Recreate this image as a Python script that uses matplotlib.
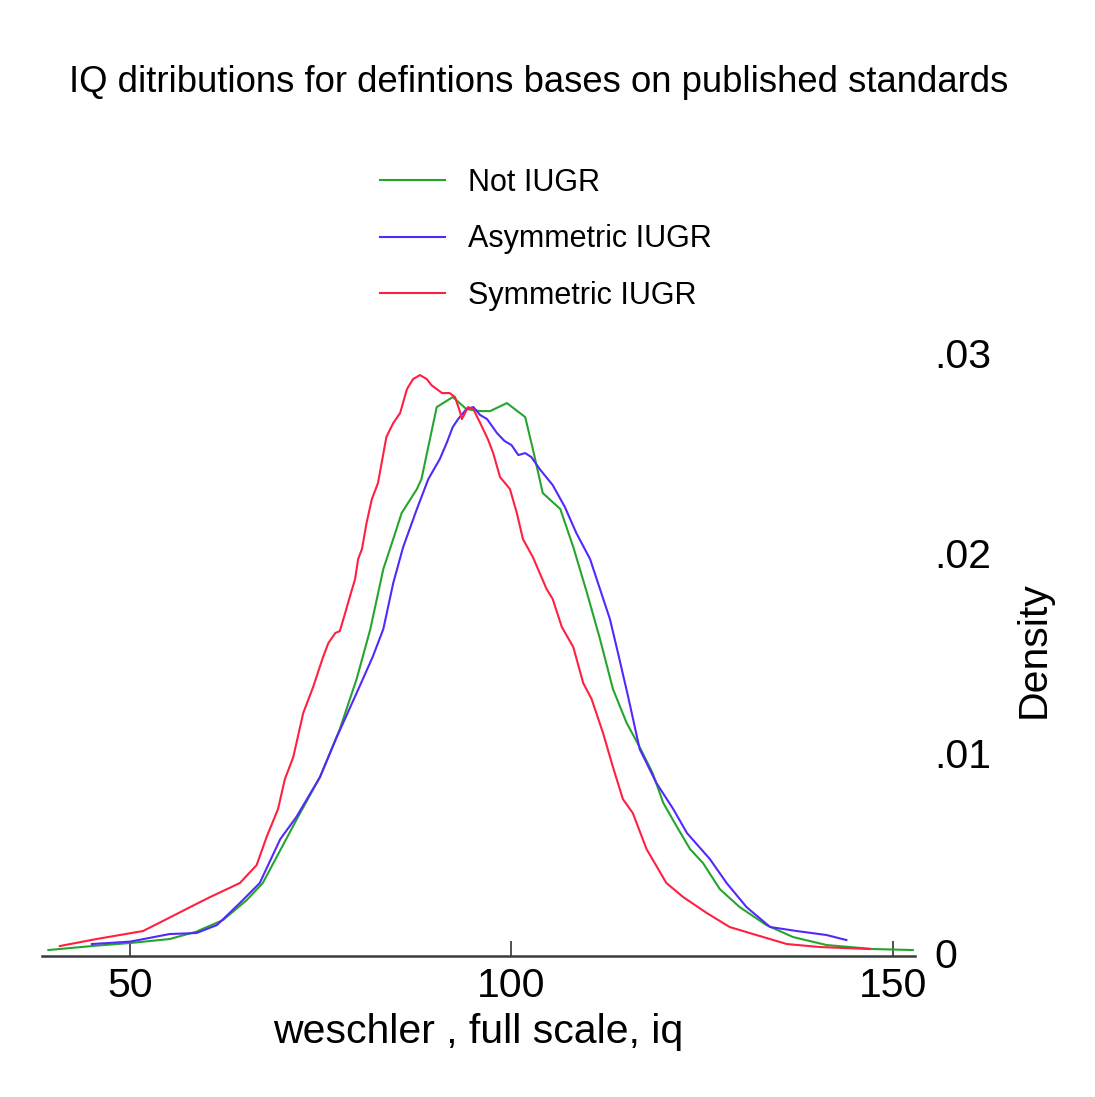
import matplotlib
matplotlib.use('Agg')
import matplotlib.pyplot as plt

plt.rcParams['font.family'] = ['Liberation Sans', 'DejaVu Sans']

# densidades (iq, densidade)
not_iugr_x = [39.3, 45.6, 50.0, 55.2, 58.7, 62.2, 65.3, 67.4, 71.8, 74.9, 77.5, 79.7, 81.5,
              83.2, 84.5, 85.6, 87.6, 88.2, 90.2, 92.3, 94.1, 95.9, 97.2, 99.4, 101.8, 102.8,
              104.1, 106.4, 108.1, 109.9, 111.6, 113.3, 115.1, 116.8, 118.5, 119.9, 121.7,
              123.4, 125.1, 127.3, 129.9, 133.4, 136.9, 141.3, 147.4, 152.6]
not_iugr_y = [0.00015, 0.00037, 0.0005, 0.0007, 0.00107, 0.00165, 0.00265, 0.0035, 0.00665,
              0.0088, 0.0112, 0.0137, 0.0162, 0.0192, 0.0207, 0.022, 0.0232, 0.0237, 0.0273,
              0.0278, 0.0272, 0.0271, 0.0271, 0.0275, 0.0268, 0.0252, 0.023, 0.0222, 0.0203,
              0.018, 0.0157, 0.0132, 0.0115, 0.0103, 0.009, 0.0075, 0.0063, 0.0052, 0.0045,
              0.0032, 0.0023, 0.0014, 0.0008, 0.0004, 0.0002, 0.00015]

asym_x = [45.0, 50.0, 55.2, 58.7, 61.4, 64.4, 67.0, 69.7, 71.8, 74.9, 77.1, 79.7, 81.8, 83.2,
          84.5, 85.8, 87.6, 89.1, 90.6, 91.5, 92.3, 93.0, 94.1, 95.0, 95.9, 96.8, 98.1, 99.1,
          100.0, 100.9, 101.8, 102.6, 103.7, 105.4, 107.0, 108.5, 110.3, 111.6, 112.9, 113.9,
          115.3, 116.8, 119.0, 121.2, 123.0, 126.0, 128.2, 130.8, 133.9, 137.4, 141.3, 143.9]
asym_y = [0.00045, 0.00057, 0.00095, 0.001, 0.0014, 0.0025, 0.0035, 0.0057, 0.0068, 0.0088,
          0.0108, 0.013, 0.0148, 0.0162, 0.0185, 0.0203, 0.0222, 0.0237, 0.0247, 0.0255,
          0.0263, 0.0267, 0.0272, 0.0273, 0.0269, 0.0267, 0.026, 0.0256, 0.0254, 0.0249,
          0.025, 0.0248, 0.0242, 0.0234, 0.0223, 0.021, 0.0197, 0.0182, 0.0167, 0.0151,
          0.0128, 0.0102, 0.0085, 0.0072, 0.006, 0.0047, 0.0035, 0.0023, 0.0013, 0.0011,
          0.0009, 0.00065]

sym_x = [40.8, 45.6, 51.7, 54.3, 57.9, 60.5, 64.4, 66.6, 67.9, 69.4, 70.3, 71.4, 72.7, 74.0,
         75.3, 76.0, 76.9, 77.5, 78.2, 78.8, 79.5, 79.9, 80.4, 81.0, 81.7, 82.5, 83.6, 84.5,
         85.4, 86.3, 87.1, 88.0, 88.9, 89.5, 90.9, 91.9, 92.6, 93.3, 93.5, 94.3, 95.0, 95.9,
         96.9, 97.6, 98.5, 99.8, 100.7, 101.5, 102.8, 104.6, 105.4, 106.6, 108.1, 109.4,
         110.5, 112.0, 113.3, 114.6, 115.9, 117.7, 120.3, 122.5, 125.6, 128.6, 132.1, 136.1,
         140.4, 147.0]
sym_y = [0.00035, 0.0007, 0.0011, 0.0016, 0.0023, 0.0028, 0.0035, 0.0044, 0.0058, 0.0072,
         0.0087, 0.0098, 0.012, 0.0133, 0.0148, 0.0155, 0.016, 0.0161, 0.017, 0.0178, 0.0187,
         0.0197, 0.0202, 0.0215, 0.0227, 0.0235, 0.0258, 0.0265, 0.027, 0.0282, 0.0287,
         0.0289, 0.0287, 0.0284, 0.028, 0.028, 0.0278, 0.027, 0.0267, 0.0273, 0.0272,
         0.0265, 0.0257, 0.025, 0.0238, 0.0232, 0.022, 0.0207, 0.0198, 0.0182, 0.0177,
         0.0163, 0.0153, 0.0135, 0.0127, 0.011, 0.0093, 0.0077, 0.007, 0.0052, 0.0035,
         0.0028, 0.002, 0.0013, 0.0009, 0.00045, 0.0003, 0.0002]

labels = ['Not IUGR', 'Asymmetric IUGR', 'Symmetric IUGR']
colors = ['#26a52e', '#5228ff', '#ff2040']
xticks = [50, 100, 150]
yticks = [0, 0.01, 0.02, 0.03]
yticklabels = ['0', '.01', '.02', '.03']

fig = plt.figure(figsize=(10.95, 10.97), dpi=100)
ax = fig.add_axes([0.0384, 0.1285, 0.7973, 0.5706])

ax.plot(not_iugr_x, not_iugr_y, color=colors[0], lw=1.5, label=labels[0])
ax.plot(asym_x, asym_y, color=colors[1], lw=1.5, label=labels[1])
ax.plot(sym_x, sym_y, color=colors[2], lw=1.5, label=labels[2])

ax.set_xlim(38.47, 152.9)
ax.set_ylim(-0.00015, 0.03115)

for s in ['top', 'left', 'right']:
    ax.spines[s].set_visible(False)
ax.spines['bottom'].set_linewidth(1.8)
ax.spines['bottom'].set_color('#3a3a3a')

ax.set_xticks(xticks)
ax.set_xticklabels([str(t) for t in xticks])
ax.tick_params(axis='x', direction='in', length=11, width=1.1, color='#222222',
               labelsize=29.5, pad=8)

ax.yaxis.tick_right()
ax.set_yticks(yticks)
ax.set_yticklabels(yticklabels)
ax.tick_params(axis='y', length=0, labelsize=29.5, pad=14)

ax.set_xlabel('weschler , full scale, iq', fontsize=29.5, labelpad=6)
ax.yaxis.set_label_position('right')
ax.set_ylabel('Density', fontsize=29.5)
ax.yaxis.set_label_coords(1.1145, 0.49)

fig.text(539 / 1095, 1 - 82 / 1097, 'IQ ditributions for defintions bases on published standards',
         fontsize=26.3, ha='center', va='center')

ax.legend(loc='upper left', bbox_to_anchor=(380 / 1095, 1 - 168 / 1097),
          bbox_transform=fig.transFigure, frameon=False, fontsize=22,
          handlelength=2.13, handletextpad=0.75, labelspacing=0.86,
          borderpad=0, borderaxespad=0)

fig.savefig('out.png', dpi=100, facecolor='white')
